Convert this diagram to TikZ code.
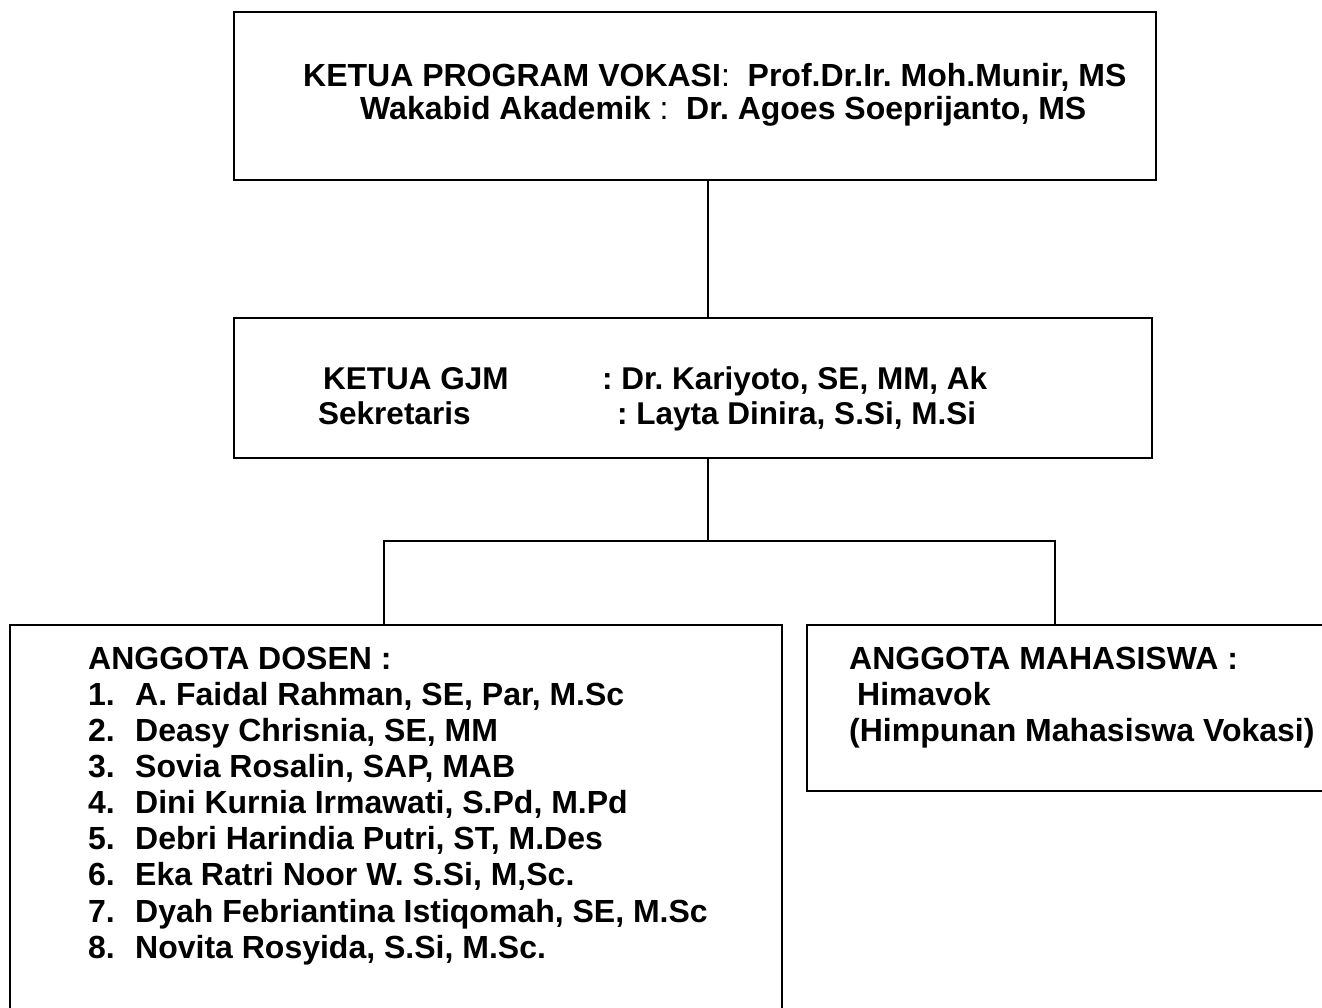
\documentclass[tikz,border=0pt]{standalone}
\usepackage{fontspec}
\setmainfont{Liberation Sans}
\frenchspacing
\begin{document}
\begin{tikzpicture}[x=1pt,y=-1pt,
  box/.style={draw=black,line width=1.6pt,rectangle,inner sep=0pt},
  conn/.style={draw=black,line width=1.6pt},
  lbl/.style={anchor=base west,inner sep=0pt,font=\fontsize{32}{36}\selectfont\bfseries},
  lblmid/.style={anchor=base west,inner sep=0pt,font=\fontsize{31.5}{36}\selectfont\bfseries},
  lbltop/.style={anchor=base west,inner sep=0pt,font=\fontsize{32}{33}\selectfont\bfseries}]
\useasboundingbox (0,0) rectangle (1322,1007);
\fill[white] (0,0) rectangle (1322,1007);
% boxes
\node[box,minimum width=922pt,minimum height=168pt] (top) at (695,96) {};
\node[box,minimum width=918pt,minimum height=140pt] (mid) at (693,388) {};
\node[box,minimum width=772pt,minimum height=420pt] (left) at (396,835) {};
\node[box,minimum width=533pt,minimum height=166pt] (right) at (1073.5,708) {};
% connector coordinates
\coordinate (j) at (708,541);
\coordinate (bl) at (384,541);
\coordinate (br) at (1055,541);
\draw[conn] (top.south -| j) -- (mid.north -| j);
\draw[conn] (mid.south -| j) -- (j);
\draw[conn] (left.north -| bl) -- (bl) -- (br) -- (right.north -| br);
% top text
\node[lbltop] (t1) at (303,86) {KETUA PROGRAM VOKASI{\mdseries:}\ \ Prof.Dr.Ir. Moh.Munir, MS};
\node[lbltop] (t2) at (360,119) {Wakabid Akademik {\mdseries:}\ \ Dr. Agoes Soeprijanto, MS};
% middle text
\node[lblmid] (m1) at (323,389) {KETUA GJM};
\node[lblmid] (m2) at (602,389) {: Dr. Kariyoto, SE, MM, Ak};
\node[lblmid] (m3) at (318,424) {Sekretaris};
\node[lblmid] (m4) at (617,424) {: Layta Dinira, S.Si, M.Si};
% left list
\node[lbl] (d0) at (88,669) {ANGGOTA DOSEN :};
\node[lbl] (n1) at (88,705) {1.};
\node[lbl] (n2) at (88,741) {2.};
\node[lbl] (n3) at (88,777) {3.};
\node[lbl] (n4) at (88,813) {4.};
\node[lbl] (n5) at (88,849) {5.};
\node[lbl] (n6) at (88,885) {6.};
\node[lbl] (n7) at (88,922) {7.};
\node[lbl] (n8) at (88,958) {8.};
\node[lbl] (p1) at (135,705) {A. Faidal Rahman, SE, Par, M.Sc};
\node[lbl] (p2) at (135,741) {Deasy Chrisnia, SE, MM};
\node[lbl] (p3) at (135,777) {Sovia Rosalin, SAP, MAB};
\node[lbl] (p4) at (135,813) {Dini Kurnia Irmawati, S.Pd, M.Pd};
\node[lbl] (p5) at (135,849) {Debri Harindia Putri, ST, M.Des};
\node[lbl] (p6) at (135,885) {Eka Ratri Noor W. S.Si, M,Sc.};
\node[lbl] (p7) at (135,922) {Dyah Febriantina Istiqomah, SE, M.Sc};
\node[lbl] (p8) at (135,958) {Novita Rosyida, S.Si, M.Sc.};
% right text
\node[lbl] (r1) at (849,669) {ANGGOTA MAHASISWA :};
\node[lbl] (r2) at (857,705) {Himavok};
\node[lbl] (r3) at (849,741) {(Himpunan Mahasiswa Vokasi)};
\end{tikzpicture}
\end{document}
